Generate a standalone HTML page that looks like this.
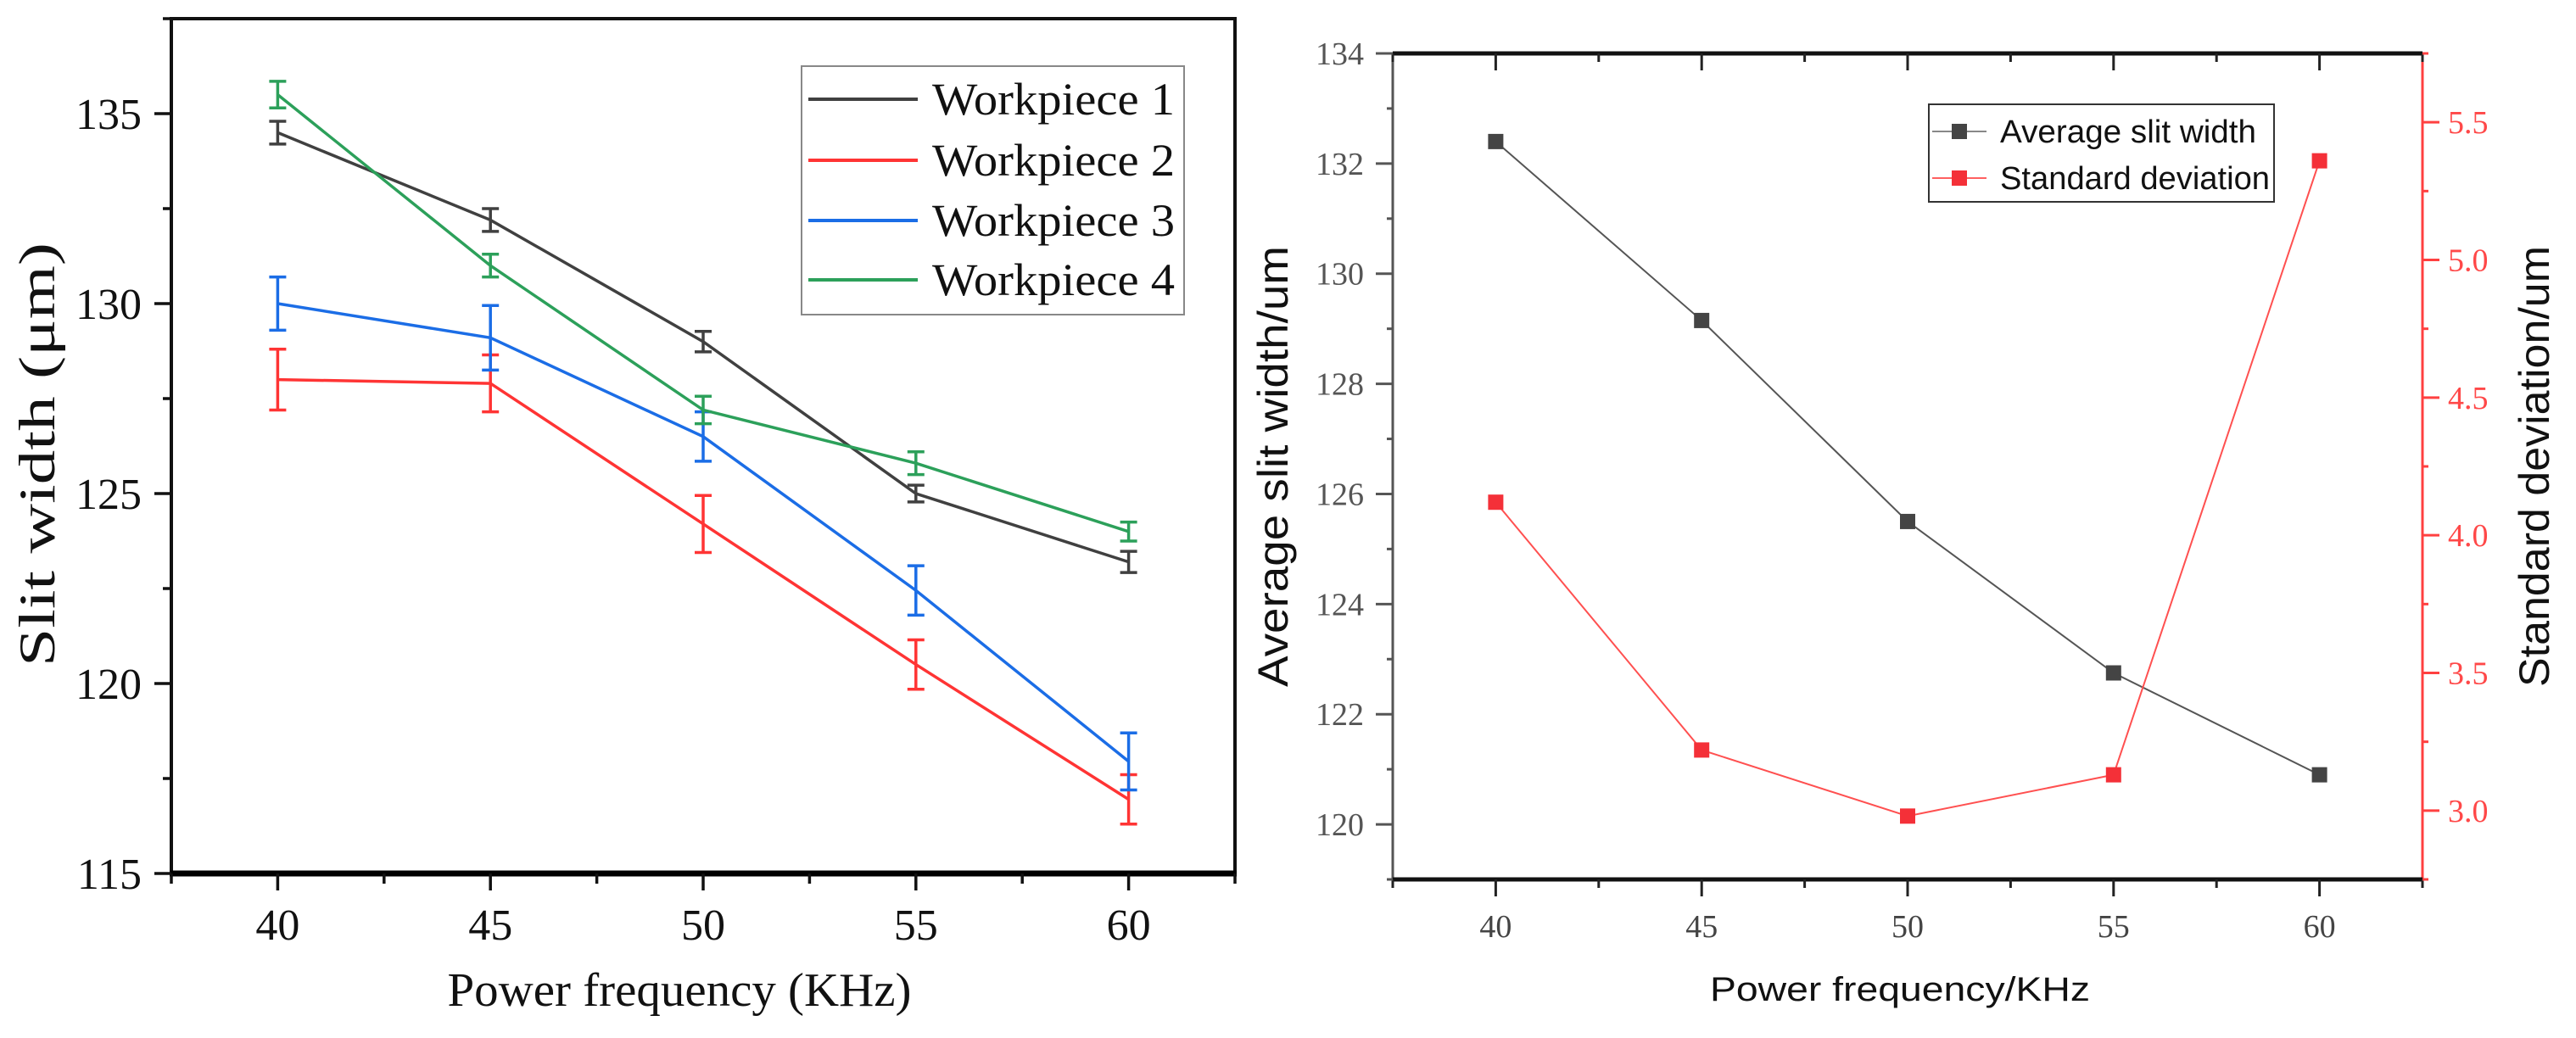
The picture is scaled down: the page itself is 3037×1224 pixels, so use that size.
<!DOCTYPE html>
<html><head><meta charset="utf-8"><style>
html,body{margin:0;padding:0;background:#fff;}
svg{display:block;}
</style></head><body>
<svg id="c" xmlns="http://www.w3.org/2000/svg" width="3037" height="1224" viewBox="0 0 3037 1224">
<g id="left"></g>
<g id="right"></g>
</svg>
<script>
// ---------- Left chart data ----------
const freqs = [40, 45, 50, 55, 60];
const xTickLabels = ["40", "45", "50", "55", "60"];
const leftYTicks = [115, 120, 125, 130, 135];
const seriesNames = ["Workpiece 1", "Workpiece 2", "Workpiece 3", "Workpiece 4"];
const w1 = [134.5, 132.2, 129.0, 125.0, 123.2];
const w2 = [128.0, 127.9, 124.2, 120.5, 116.95];
const w3 = [130.0, 129.1, 126.5, 122.45, 117.95];
const w4 = [135.5, 131.0, 127.2, 125.8, 124.0];
const e1 = [0.3, 0.3, 0.27, 0.22, 0.28];
const e2 = [0.8, 0.75, 0.75, 0.65, 0.65];
const e3 = [0.7, 0.85, 0.65, 0.65, 0.75];
const e4 = [0.35, 0.3, 0.36, 0.3, 0.25];
// ---------- Right chart data ----------
const avgWidth = [132.4, 129.15, 125.5, 122.75, 120.9];
const stdDev = [4.12, 3.22, 2.98, 3.13, 5.36];
const rightYTicks = [120, 122, 124, 126, 128, 130, 132, 134];
const rightY2Ticks = [3.0, 3.5, 4.0, 4.5, 5.0, 5.5];
const rightY2Labels = ["3.0", "3.5", "4.0", "4.5", "5.0", "5.5"];

const NS = "http://www.w3.org/2000/svg";
function mk(parent, tag, attrs, text) {
  const el = document.createElementNS(NS, tag);
  for (const k in attrs) el.setAttribute(k, attrs[k]);
  if (text !== undefined) el.textContent = text;
  parent.appendChild(el);
  return el;
}
function lin(d0, d1, r0, r1) { return v => r0 + (v - d0) * (r1 - r0) / (d1 - d0); }

// ================= LEFT =================
(function () {
  const g = document.getElementById('left');
  const L = 202, R = 1456, T = 22, B = 1030;
  const x = lin(37.5, 62.5, L, R);
  const y = lin(115, 137.5, B, T);
  const serif = '"Liberation Serif", serif';
  let el = mk(g, 'rect', { x: L, y: T, width: R - L, height: B - T, fill: 'none', stroke: '#111', 'stroke-width': 4 });
  
  
  el = mk(g, 'line', { x1: L - 2, x2: R + 2, y1: B, y2: B, stroke: '#000', 'stroke-width': 7 });
  
  
  for (let v = 37.5; v <= 62.51; v += 2.5) {
    const major = Math.abs(v % 5) < 0.01;
    el = mk(g, 'line', { x1: x(v), x2: x(v), y1: B, y2: B + (major ? 20 : 12), stroke: '#111', 'stroke-width': 3.5 });
    
    
  }
  freqs.forEach((f, i) => {
    el = mk(g, 'text', { x: x(f), y: 1108, 'text-anchor': 'middle', 'font-family': serif, 'font-size': 52, fill: '#111' }, xTickLabels[i]);
    
    
  });
  for (let v = 115; v <= 137.5; v += 2.5) {
    const major = Math.abs(v % 5) < 0.01;
    el = mk(g, 'line', { x1: L, x2: L - (major ? 20 : 10), y1: y(v), y2: y(v), stroke: '#111', 'stroke-width': 3.5 });
    
    
  }
  leftYTicks.forEach(v => {
    el = mk(g, 'text', { x: 167, y: y(v) + 18, 'text-anchor': 'end', 'font-family': serif, 'font-size': 52, fill: '#111' }, String(v));
    
    
  });
  el = mk(g, 'text', { x: 801, y: 1186, 'text-anchor': 'middle', 'font-family': serif, 'font-size': 56, fill: '#111', textLength: 547, lengthAdjust: 'spacingAndGlyphs' }, 'Power frequency (KHz)');
  
  
  el = mk(g, 'text', { x: 0, y: 0, 'text-anchor': 'middle', 'font-family': serif, 'font-size': 60, fill: '#111', textLength: 500, lengthAdjust: 'spacingAndGlyphs', transform: 'translate(64,536) rotate(-90)' }, 'Slit width (\u03bcm)');
  
  
  const data = [w1, w2, w3, w4];
  const errs = [e1, e2, e3, e4];
  const colors = ['#404040', '#ff3434', '#1b6de6', '#2ca05a'];
  data.forEach((s, si) => {
    const sg = mk(g, 'g', {});
    
    
    const pts = s.map((v, i) => x(freqs[i]) + ',' + y(v)).join(' ');
    el = mk(sg, 'polyline', { points: pts, fill: 'none', stroke: colors[si], 'stroke-width': 3.5 });
    
    
    s.forEach((v, i) => {
      const cx = x(freqs[i]), yt = y(v + errs[si][i]), yb = y(v - errs[si][i]);
      el = mk(sg, 'path', { d: `M${cx},${yt}V${yb}M${cx - 10},${yt}H${cx + 10}M${cx - 10},${yb}H${cx + 10}`, stroke: colors[si], 'stroke-width': 3.5, fill: 'none' });
      
      
    });
  });
  const lg = mk(g, 'g', {});
  
  
  el = mk(lg, 'rect', { x: 945, y: 78, width: 451, height: 293, fill: '#fff', stroke: '#888', 'stroke-width': 2 });
  
  
  const ly = [117, 189, 260, 330];
  seriesNames.forEach((n, i) => {
    el = mk(lg, 'line', { x1: 953, x2: 1082, y1: ly[i], y2: ly[i], stroke: colors[i], 'stroke-width': 4 });
    
    
    el = mk(lg, 'text', { x: 1099, y: ly[i] + 18, 'font-family': serif, 'font-size': 54, fill: '#111', textLength: 286, lengthAdjust: 'spacingAndGlyphs' }, n);
    
    
  });
})();

// ================= RIGHT =================
(function () {
  const g = document.getElementById('right');
  const L = 1642, R = 2856, T = 63, B = 1037;
  const x = lin(37.5, 62.5, L, R);
  const y = lin(119, 134, B, T);
  const y2 = lin(2.75, 5.75, B, T);
  const serif = '"Liberation Serif", serif';
  const sans = '"Liberation Sans", sans-serif';
  let el;
  el = mk(g, 'line', { x1: L, x2: L, y1: T, y2: B, stroke: '#555', 'stroke-width': 3 });
  
  
  el = mk(g, 'line', { x1: R, x2: R, y1: T, y2: B, stroke: '#ff4040', 'stroke-width': 3 });
  
  
  el = mk(g, 'line', { x1: L, x2: R, y1: T, y2: T, stroke: '#111', 'stroke-width': 5 });
  
  
  el = mk(g, 'line', { x1: L, x2: R, y1: B, y2: B, stroke: '#111', 'stroke-width': 5 });
  
  
  for (let v = 37.5; v <= 62.51; v += 2.5) {
    const major = Math.abs(v % 5) < 0.01;
    el = mk(g, 'line', { x1: x(v), x2: x(v), y1: B, y2: B + (major ? 20 : 10), stroke: '#222', 'stroke-width': 3 });
    
    
    el = mk(g, 'line', { x1: x(v), x2: x(v), y1: T, y2: T + (major ? 20 : 10), stroke: '#222', 'stroke-width': 3 });
    
    
  }
  freqs.forEach((f, i) => {
    el = mk(g, 'text', { x: x(f), y: 1105, 'text-anchor': 'middle', 'font-family': serif, 'font-size': 38, fill: '#444' }, xTickLabels[i]);
    
    
  });
  for (let v = 119; v <= 134; v += 1) {
    const major = v % 2 === 0;
    el = mk(g, 'line', { x1: L, x2: L - (major ? 20 : 7), y1: y(v), y2: y(v), stroke: '#555', 'stroke-width': 3 });
    
    
  }
  rightYTicks.forEach(v => {
    el = mk(g, 'text', { x: 1608, y: y(v) + 13, 'text-anchor': 'end', 'font-family': serif, 'font-size': 38, fill: '#555' }, String(v));
    
    
  });
  for (let v = 2.75; v <= 5.76; v += 0.25) {
    const major = Math.abs((v * 2) % 1) < 0.01;
    el = mk(g, 'line', { x1: R, x2: R + (major ? 20 : 7), y1: y2(v), y2: y2(v), stroke: '#ff4040', 'stroke-width': 3 });
    
    
  }
  rightY2Ticks.forEach((v, i) => {
    el = mk(g, 'text', { x: 2886, y: y2(v) + 13, 'font-family': serif, 'font-size': 38, fill: '#ff4848' }, rightY2Labels[i]);
    
    
  });
  el = mk(g, 'text', { x: 2240, y: 1180, 'text-anchor': 'middle', 'font-family': sans, 'font-size': 40, fill: '#111', textLength: 448, lengthAdjust: 'spacingAndGlyphs' }, 'Power frequency/KHz');
  
  
  el = mk(g, 'text', { x: 0, y: 0, 'text-anchor': 'middle', 'font-family': sans, 'font-size': 50, fill: '#111', textLength: 520, lengthAdjust: 'spacingAndGlyphs', transform: 'translate(1518,550) rotate(-90)' }, 'Average slit width/um');
  
  
  el = mk(g, 'text', { x: 0, y: 0, 'text-anchor': 'middle', 'font-family': sans, 'font-size': 50, fill: '#111', textLength: 520, lengthAdjust: 'spacingAndGlyphs', transform: 'translate(3005,550) rotate(-90)' }, 'Standard deviation/um');
  
  
  function series(vals, sy, color, lineColor, name) {
    const sg = mk(g, 'g', {});
    
    
    el = mk(sg, 'polyline', { points: vals.map((v, i) => x(freqs[i]) + ',' + sy(v)).join(' '), fill: 'none', stroke: lineColor, 'stroke-width': 2 });
    
    
    vals.forEach((v, i) => {
      el = mk(sg, 'rect', { x: x(freqs[i]) - 9, y: sy(v) - 9, width: 18, height: 18, fill: color });
      
      
    });
  }
  series(avgWidth, y, '#444', '#555', 'average-slit-width');
  series(stdDev, y2, '#f43038', '#ff5050', 'standard-deviation');
  const lg = mk(g, 'g', {});
  
  
  el = mk(lg, 'rect', { x: 2274, y: 123, width: 407, height: 115, fill: '#fff', stroke: '#333', 'stroke-width': 2 });
  
  
  const items = [['Average slit width', '#444', '#888', 155], ['Standard deviation', '#f43038', '#ff6060', 210]];
  items.forEach(it => {
    el = mk(lg, 'line', { x1: 2278, x2: 2342, y1: it[3], y2: it[3], stroke: it[2], 'stroke-width': 2 });
    
    
    el = mk(lg, 'rect', { x: 2301, y: it[3] - 9, width: 18, height: 18, fill: it[1] });
    
    
    el = mk(lg, 'text', { x: 2358, y: it[3] + 13, 'font-family': sans, 'font-size': 38, fill: '#111', textLength: it[0] === 'Average slit width' ? 302 : 318, lengthAdjust: 'spacingAndGlyphs' }, it[0]);
    
    
  });
})();
</script>
</body></html>
